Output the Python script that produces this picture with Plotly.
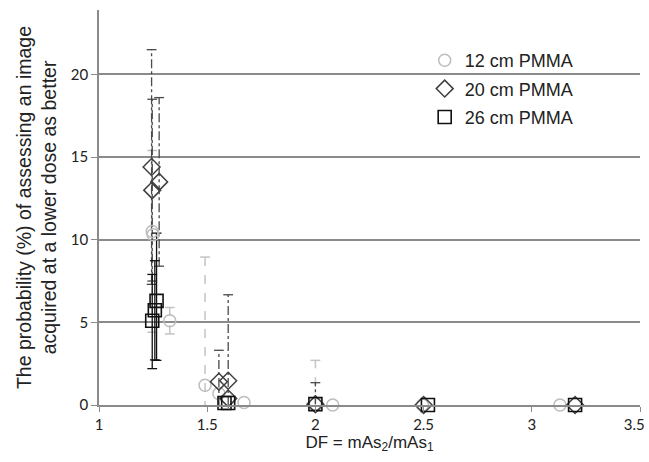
import plotly.graph_objects as go

# ---- data ----
pmma12_x = [1.246, 1.250, 1.327, 1.490, 1.554, 1.670, 2.000, 2.080, 2.495, 3.130]
pmma12_y = [10.5, 10.3, 5.1, 1.2, 0.7, 0.15, 0.05, 0.0, 0.0, 0.0]
pmma12_up = [4.9, 0.0, 0.8, 7.75, 0.0, 0.0, 2.65, 0.0, 0.0, 0.0]
pmma12_dn = [6.1, 0.0, 0.8, 1.5, 0.0, 0.0, 0.0, 0.0, 0.0, 0.0]

pmma20_x = [1.243, 1.246, 1.278, 1.554, 1.597, 1.597, 2.000, 2.500, 3.200]
pmma20_y = [14.4, 13.0, 13.5, 1.41, 1.47, 0.4, 0.05, 0.0, 0.0]
pmma20_up = [7.1, 5.5, 5.1, 1.9, 5.2, 0.0, 1.3, 0.0, 0.0]
pmma20_dn = [7.1, 5.5, 5.1, 1.41, 1.47, 0.0, 0.0, 0.0, 0.0]

pmma26_x = [1.246, 1.258, 1.266, 1.580, 1.597, 2.000, 2.520, 3.200]
pmma26_y = [5.1, 5.73, 6.3, 0.12, 0.12, 0.05, 0.0, 0.0]
pmma26_up = [2.8, 3.0, 4.1, 0.0, 0.0, 0.0, 0.0, 0.0]
pmma26_dn = [2.9, 3.0, 3.6, 0.0, 0.0, 0.0, 0.0, 0.0]

series_names = ["12 cm PMMA", "20 cm PMMA", "26 cm PMMA"]
x_ticks = [1, 1.5, 2, 2.5, 3, 3.5]
# trailing no-break spaces keep the last label inside the window
x_ticklabels = ["1", "1.5", "2", "2.5", "3", "3.5\u00a0\u00a0\u00a0"]
y_ticks = [0, 5, 10, 15, 20]

GRID = "#8a8a8a"
C12, C20, C26 = "#bdbdbd", "#404040", "#111111"

fig = go.Figure()


def add_errorbars(xs, ys, ups, dns, color, dash, width):
    lx, ly, cx, cy = [], [], [], []
    for x, y, u, d in zip(xs, ys, ups, dns):
        if u <= 0 and d <= 0:
            continue
        lx += [x, x, None]
        ly += [y - d, y + u, None]
        if u > 0:
            cx.append(x); cy.append(y + u)
        if d > 0 and y - d > 0:
            cx.append(x); cy.append(y - d)
    fig.add_trace(go.Scatter(x=lx, y=ly, mode="lines", showlegend=False,
                             hoverinfo="skip",
                             line=dict(color=color, dash=dash, width=width)))
    fig.add_trace(go.Scatter(x=cx, y=cy, mode="markers", showlegend=False,
                             hoverinfo="skip",
                             marker=dict(symbol="line-ew", size=7, color=color,
                                         line=dict(color=color, width=width))))


add_errorbars(pmma12_x, pmma12_y, pmma12_up, pmma12_dn, "#c4c4c4", "dash", 1.5)
add_errorbars(pmma20_x, pmma20_y, pmma20_up, pmma20_dn, "#4a4a4a", "dashdot", 1.3)
add_errorbars(pmma26_x, pmma26_y, pmma26_up, pmma26_dn, C26, "solid", 1.3)

fig.add_trace(go.Scatter(x=pmma12_x, y=pmma12_y, mode="markers", name=series_names[0],
                         legendgroup="a",
                         marker=dict(symbol="circle-open", size=12, color=C12,
                                     line=dict(color=C12, width=1.5)),
                         cliponaxis=False))
fig.add_trace(go.Scatter(x=pmma20_x, y=pmma20_y, mode="markers", name=series_names[1],
                         legendgroup="b",
                         marker=dict(symbol="diamond-open", size=13, color=C20,
                                     line=dict(color=C20, width=1.5)),
                         cliponaxis=False))
fig.add_trace(go.Scatter(x=pmma26_x, y=pmma26_y, mode="markers", name=series_names[2],
                         legendgroup="c",
                         marker=dict(symbol="square-open", size=13, color=C26,
                                     line=dict(color=C26, width=1.6)),
                         cliponaxis=False))

fig.update_layout(
    width=649, height=462,
    margin=dict(l=99, r=9, t=10, b=57),
    paper_bgcolor="white", plot_bgcolor="white",
    showlegend=True,
    legend=dict(x=0.602, y=0.919, xanchor="left", yanchor="top",
                font=dict(family="Liberation Sans, Arial", size=18, color="#222"),
                bgcolor="rgba(0,0,0,0)", tracegroupgap=2),
    xaxis=dict(range=[1, 3.5], tickvals=x_ticks, ticktext=x_ticklabels,
               automargin=False, ticklabeloverflow="allow",
               showgrid=False, zeroline=False, showline=True, linecolor=GRID,
               linewidth=1.5, ticks="outside", ticklen=5, tickcolor=GRID,
               tickfont=dict(family="Lato, Carlito, Calibri", size=15, color="#222"),
               title=dict(text="DF = mAs<sub>2</sub>/mAs<sub>1</sub>",
                          font=dict(family="Liberation Sans, Arial", size=17, color="#222"),
                          standoff=2)),
    yaxis=dict(range=[0, 23.9], tickvals=y_ticks, automargin=False,
               showgrid=True, gridcolor=GRID, gridwidth=1.5, zeroline=False,
               showline=True, linecolor=GRID, linewidth=1.5,
               ticks="outside", ticklen=6, tickcolor=GRID,
               tickfont=dict(family="Lato, Carlito, Calibri", size=15, color="#222"),
               title=dict(text="The probability (%) of assessing an image<br>acquired at a lower dose as better",
                          font=dict(family="Liberation Sans, Arial", size=19.5, color="#222"),
                          standoff=9)),
)

fig.write_html(
    "out.html",
    config={"displayModeBar": False},
    post_script="document.documentElement.style.margin='0';"
                "document.body.style.margin='0';"
                "document.body.style.overflow='hidden';",
)
